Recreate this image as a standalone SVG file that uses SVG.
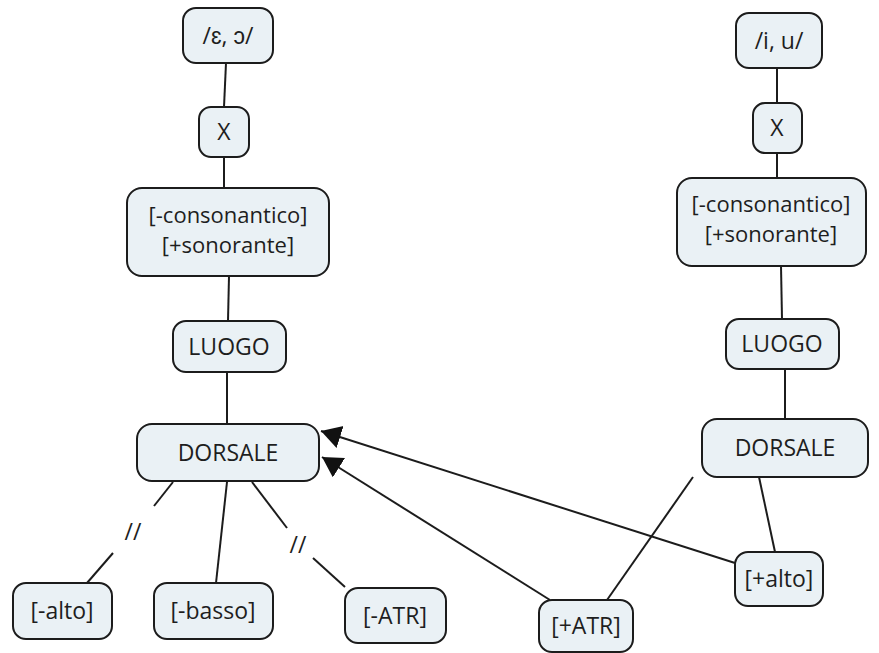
<svg xmlns="http://www.w3.org/2000/svg" width="879" height="653" viewBox="0 0 879 653">
  <style>
    .box { fill: #eaf1f5; stroke: #1c1c1c; stroke-width: 2; }
    .lbl { font-family: "Open Sans", "Liberation Sans", sans-serif; font-size: 23px; fill: #1e1e1e; text-anchor: middle; }
    .two { font-size: 22px; }
    .ln { stroke: #1c1c1c; stroke-width: 2; fill: none; }
    .arr { stroke: #1c1c1c; stroke-width: 2; fill: none; marker-end: url(#head); }
  </style>
  <defs>
    <marker id="head" markerUnits="userSpaceOnUse" markerWidth="22" markerHeight="24" refX="20" refY="11.5" orient="auto">
      <path d="M0,0 L20,11.5 L0,23 Z" fill="#111"/>
    </marker>
  </defs>
  <rect width="879" height="653" fill="#ffffff"/>

  <!-- connectors -->
  <g id="connectors">
    <!-- left tree -->
    <line class="ln" x1="226" y1="63" x2="224" y2="107"/>
    <line class="ln" x1="224" y1="157" x2="224" y2="188"/>
    <line class="ln" x1="229" y1="276" x2="228" y2="321"/>
    <line class="ln" x1="227" y1="372" x2="227" y2="424"/>
    <line class="ln" x1="173" y1="482" x2="154" y2="506"/>
    <line class="ln" x1="113" y1="553" x2="87" y2="583"/>
    <text class="lbl" x="133" y="540">//</text>
    <line class="ln" x1="227" y1="482" x2="216" y2="583"/>
    <line class="ln" x1="252" y1="482" x2="287" y2="528"/>
    <line class="ln" x1="313" y1="558" x2="345" y2="587"/>
    <text class="lbl" x="298" y="553">//</text>
    <!-- right tree -->
    <line class="ln" x1="777" y1="68" x2="777" y2="103"/>
    <line class="ln" x1="777" y1="153" x2="777" y2="178"/>
    <line class="ln" x1="781" y1="266" x2="782" y2="319"/>
    <line class="ln" x1="785" y1="369" x2="785" y2="419"/>
    <line class="ln" x1="693" y1="477" x2="607" y2="600"/>
    <line class="ln" x1="759" y1="477" x2="775" y2="552"/>
    <!-- cross links -->
    <line class="arr" x1="735" y1="563" x2="321" y2="431"/>
    <line class="arr" x1="550" y1="600" x2="322" y2="457"/>
  </g>

  <!-- left tree nodes -->
  <g id="n-eo">
    <rect class="box" x="183" y="8" width="90" height="55" rx="13"/>
    <text class="lbl" x="228" y="44">/ɛ, ɔ/</text>
  </g>
  <g id="n-x1">
    <rect class="box" x="199" y="107" width="50" height="50" rx="12"/>
    <text class="lbl" x="224" y="140">X</text>
  </g>
  <g id="n-cons1">
    <rect class="box" x="127" y="188" width="202" height="88" rx="15"/>
    <text class="lbl two" x="228" y="223">[-consonantico]<tspan x="228" dy="30">[+sonorante]</tspan></text>
  </g>
  <g id="n-luogo1">
    <rect class="box" x="173" y="321" width="113" height="51" rx="13"/>
    <text class="lbl" x="229" y="355">LUOGO</text>
  </g>
  <g id="n-dors1">
    <rect class="box" x="137" y="424" width="182" height="57" rx="15"/>
    <text class="lbl" x="228" y="461">DORSALE</text>
  </g>
  <g id="n-malto">
    <rect class="box" x="13" y="583" width="99" height="56" rx="13"/>
    <text class="lbl" x="62" y="619">[-alto]</text>
  </g>
  <g id="n-mbasso">
    <rect class="box" x="154" y="583" width="119" height="56" rx="13"/>
    <text class="lbl" x="213" y="619">[-basso]</text>
  </g>
  <g id="n-matr">
    <rect class="box" x="345" y="588" width="101" height="55" rx="13"/>
    <text class="lbl" x="395" y="624">[-ATR]</text>
  </g>

  <!-- right tree nodes -->
  <g id="n-iu">
    <rect class="box" x="736" y="13" width="86" height="55" rx="13"/>
    <text class="lbl" x="779" y="49">/i, u/</text>
  </g>
  <g id="n-x2">
    <rect class="box" x="753" y="103" width="49" height="50" rx="12"/>
    <text class="lbl" x="777" y="136">X</text>
  </g>
  <g id="n-cons2">
    <rect class="box" x="677" y="178" width="189" height="88" rx="15"/>
    <text class="lbl two" x="771" y="212">[-consonantico]<tspan x="771" dy="30">[+sonorante]</tspan></text>
  </g>
  <g id="n-luogo2">
    <rect class="box" x="726" y="319" width="113" height="50" rx="13"/>
    <text class="lbl" x="782" y="352">LUOGO</text>
  </g>
  <g id="n-dors2">
    <rect class="box" x="702" y="419" width="166" height="58" rx="15"/>
    <text class="lbl" x="785" y="456">DORSALE</text>
  </g>
  <g id="n-palto">
    <rect class="box" x="735" y="552" width="88" height="54" rx="13"/>
    <text class="lbl" x="779" y="587">[+alto]</text>
  </g>
  <g id="n-patr">
    <rect class="box" x="539" y="600" width="94" height="52" rx="13"/>
    <text class="lbl" x="586" y="634">[+ATR]</text>
  </g>
</svg>
